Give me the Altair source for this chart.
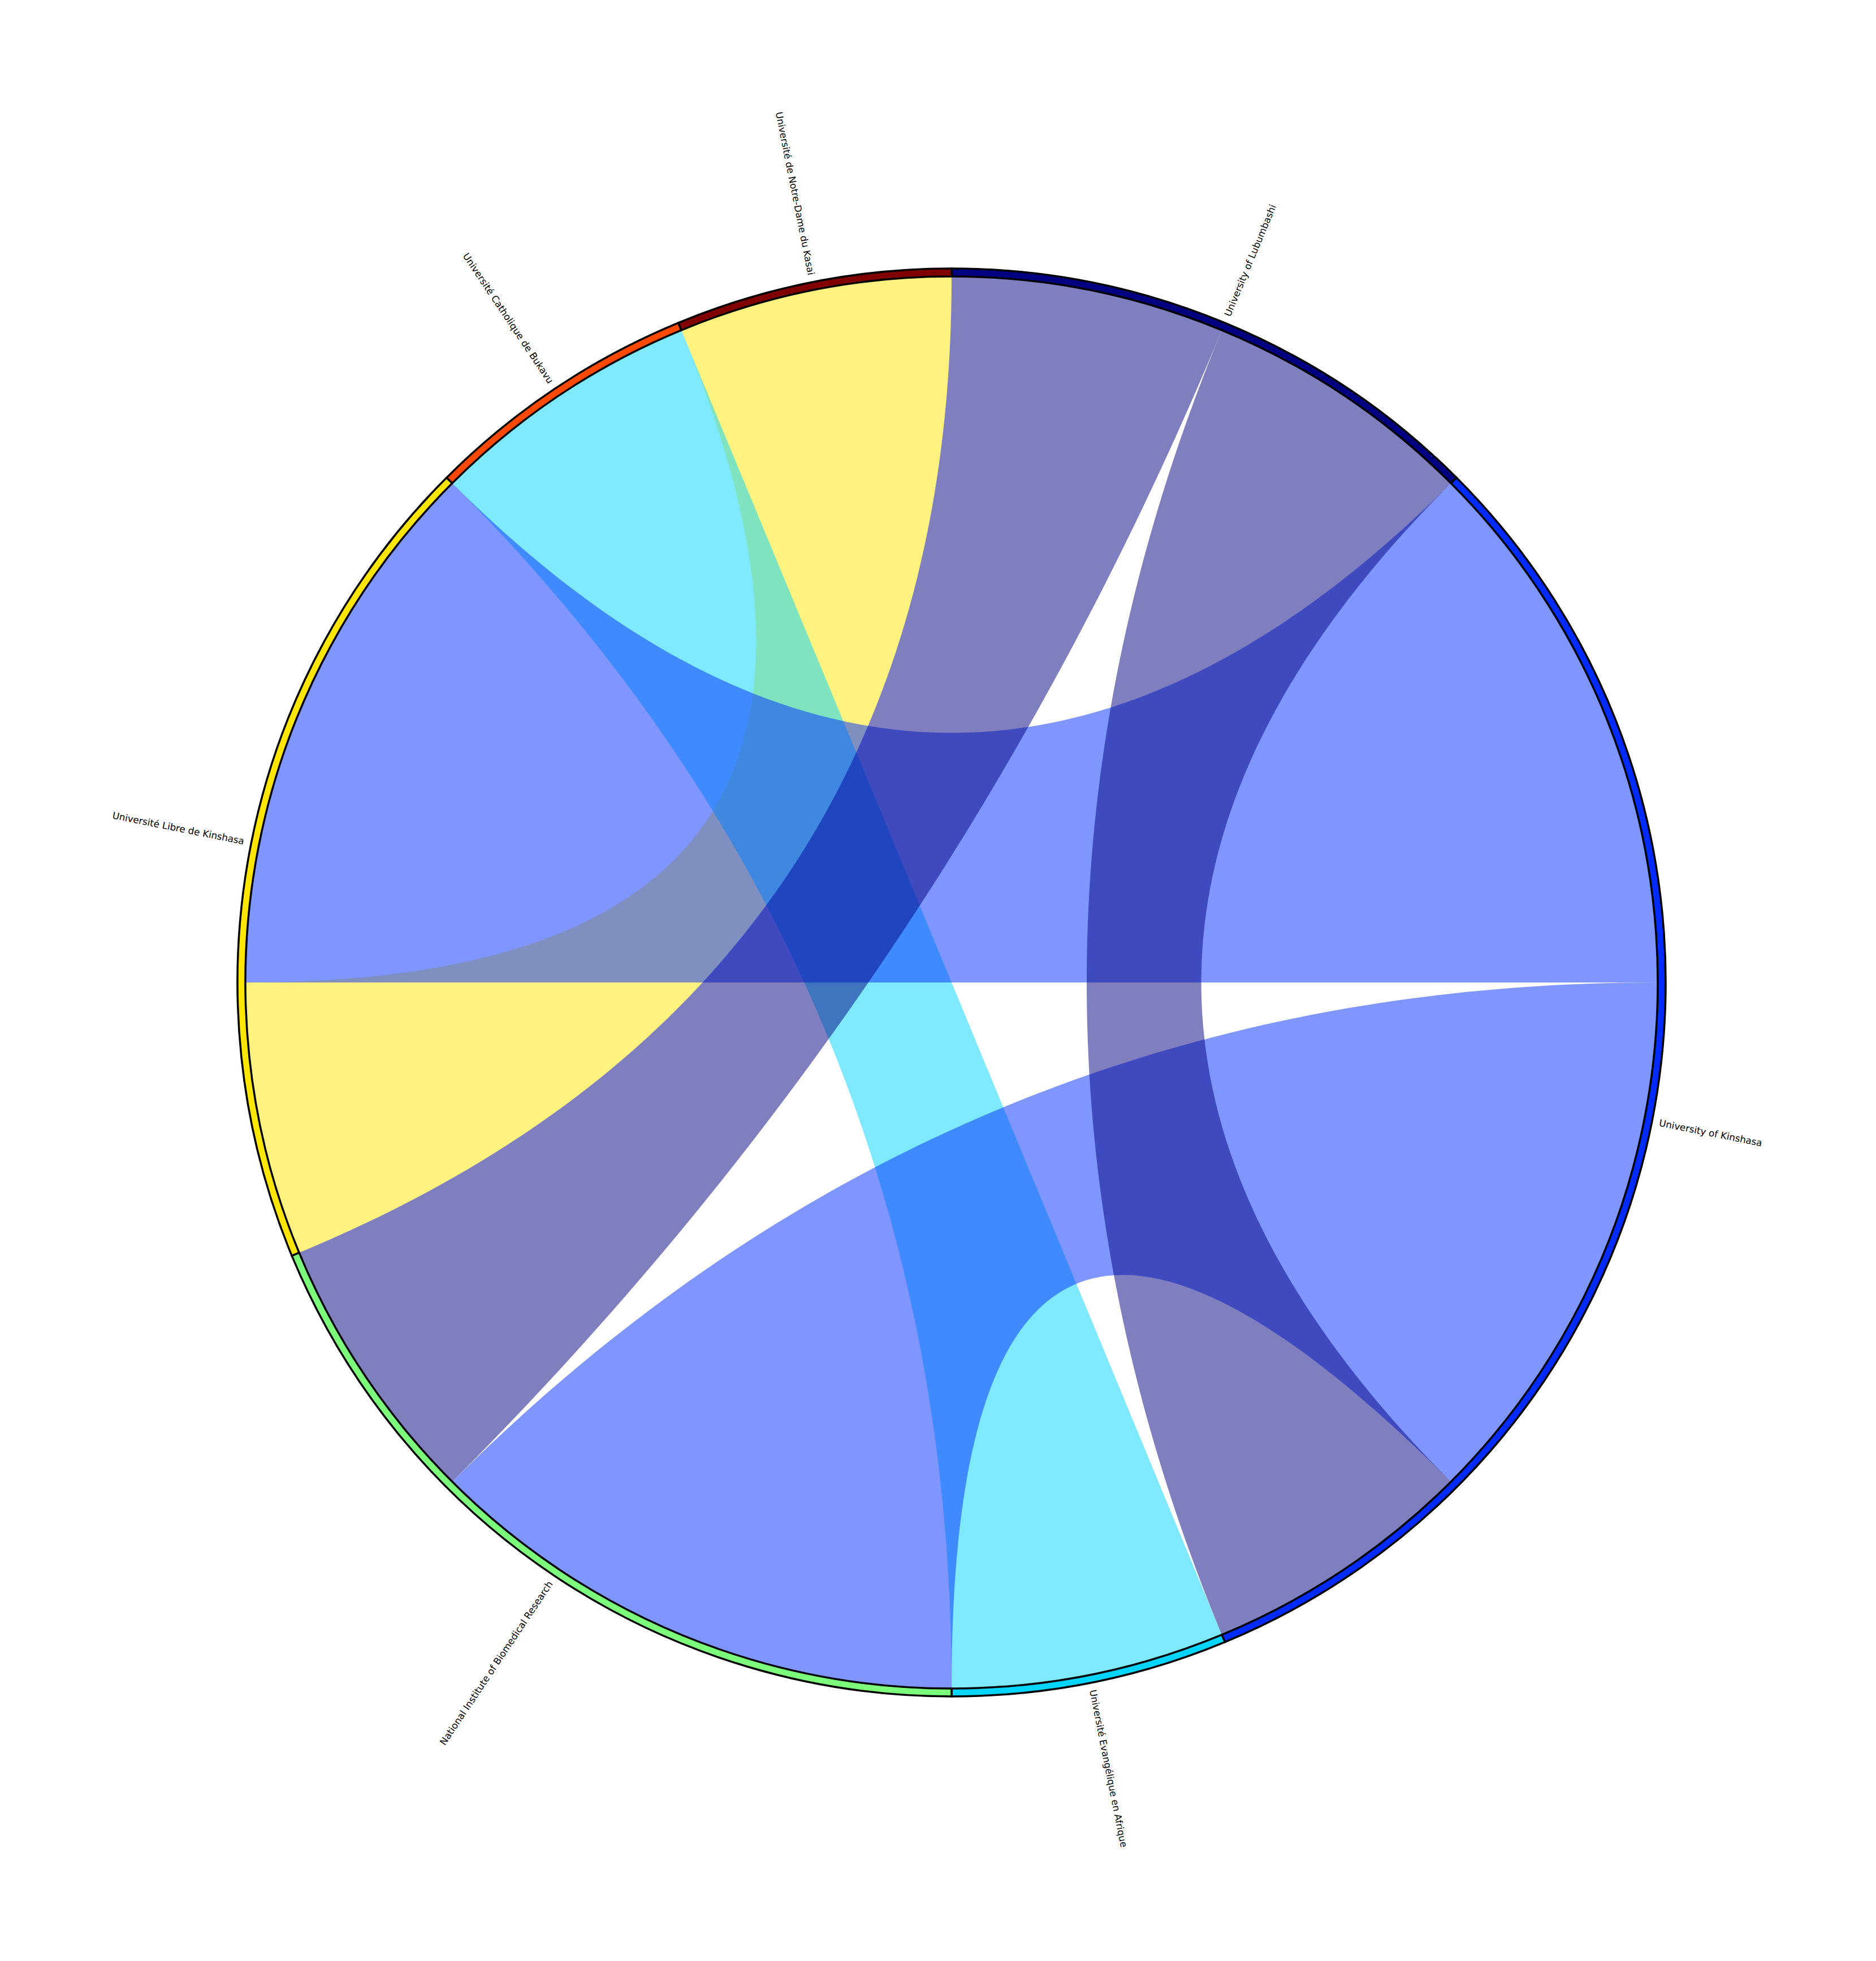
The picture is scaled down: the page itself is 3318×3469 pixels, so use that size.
import math
import numpy as np
import pandas as pd
import altair as alt

# ---------------- data ----------------
nodes = [
    "University of Lubumbashi",
    "University of Kinshasa",
    "Université Evangélique en Afrique",
    "National Institute of Biomedical Research",
    "Université Libre de Kinshasa",
    "Université Catholique de Bukavu",
    "Université de Notre-Dame du Kasai",
]
node_colors = ["#000080", "#002bff", "#00d4ff", "#7cff7a", "#ffe600", "#ff4800", "#800000"]

link_source = [0, 0, 1, 1, 2, 4]
link_target = [1, 3, 4, 3, 5, 6]
link_weight = [1, 1, 2, 2, 1, 1]

# ---------------- layout constants ----------------
R_IN = 1249.0
R_OUT = 1263.0
R_LABEL = 1276.0
HALF = 1300.0
PLOT = 2 * HALF
PAD_L, PAD_T = 383, 438
FONT_SIZE = 16.7

n = len(nodes)
totals = [0] * n
for s, t, w in zip(link_source, link_target, link_weight):
    totals[s] += w
    totals[t] += w
total = sum(totals)

node_start = []
acc = 0
for v in totals:
    node_start.append(acc)
    acc += v

# slots inside each node: partners in descending index order, clockwise
slots = {}
for i in range(n):
    partners = []
    for k, (s, t, w) in enumerate(zip(link_source, link_target, link_weight)):
        if s == i:
            partners.append((t, k, w))
        elif t == i:
            partners.append((s, k, w))
    partners.sort(key=lambda p: -p[0])
    pos = node_start[i]
    for other, k, w in partners:
        slots[(k, i)] = (pos, pos + w)
        pos += w


def phi(u):
    return math.radians(90.0 - u * 360.0 / total)


def pt(u, r=R_IN):
    a = phi(u)
    return (r * math.cos(a), r * math.sin(a))


def arc_pts(u0, u1, m=60):
    return [pt(u) for u in np.linspace(u0, u1, m)]


def bez_pts(p0, p2, m=80):
    ts = np.linspace(0, 1, m)
    return [((1 - t) ** 2 * p0[0] + t ** 2 * p2[0], (1 - t) ** 2 * p0[1] + t ** 2 * p2[1]) for t in ts]


rows = []
for k, (s, t, w) in enumerate(zip(link_source, link_target, link_weight)):
    pa, pb = slots[(k, s)]
    qa, qb = slots[(k, t)]
    pts = (arc_pts(pa, pb) + bez_pts(pt(pb), pt(qa)) + arc_pts(qa, qb) + bez_pts(pt(qb), pt(pa)))
    col = node_colors[min(s, t)]
    for j, (x, y) in enumerate(pts):
        rows.append({"chord": k, "i": j, "x": x, "y": y, "color": col})
chord_df = pd.DataFrame(rows)

xs = alt.Scale(domain=[-HALF, HALF], nice=False, zero=False)
ys = alt.Scale(domain=[-HALF, HALF], nice=False, zero=False)

draw_order = sorted(range(len(link_source)), key=lambda k: -min(link_source[k], link_target[k]))
layers = []
for k in draw_order:
    layers.append(
        alt.Chart(chord_df)
        .transform_filter(alt.datum.chord == k)
        .mark_line(filled=True, fillOpacity=0.5, interpolate="linear")
        .encode(
            x=alt.X("x:Q", scale=xs, axis=None),
            y=alt.Y("y:Q", scale=ys, axis=None),
            order=alt.Order("i:Q"),
            color=alt.Color("color:N", scale=None),
        )
    )

# outer ring
ring_df = pd.DataFrame({
    "node": nodes,
    "u0": node_start,
    "u1": [node_start[i] + totals[i] for i in range(n)],
    "color": node_colors,
})
ring = alt.Chart(ring_df).mark_arc(radius=R_OUT, radius2=R_IN, stroke="black", strokeWidth=3.5).encode(
    theta=alt.Theta("u0:Q", scale=alt.Scale(domain=[0, total], range=[0, 2 * math.pi]), stack=None),
    theta2="u1:Q",
    color=alt.Color("color:N", scale=None),
)

# labels
lab_rows = []
for i in range(n):
    mid = node_start[i] + totals[i] / 2
    a = math.degrees(phi(mid))
    a = (a + 180) % 360 - 180
    x, y = pt(mid, R_LABEL)
    if -90 < a < 90:
        ang = (-a) % 360
        side = "left"
    else:
        ang = (180 - a) % 360
        side = "right"
    lab_rows.append({"label": nodes[i], "x": x, "y": y, "angle": ang, "side": side})
lab_df = pd.DataFrame(lab_rows)

for side in ["left", "right"]:
    layers.append(
        alt.Chart(lab_df)
        .transform_filter(alt.datum.side == side)
        .mark_text(align=side, baseline="middle", fontSize=FONT_SIZE, font="DejaVu Sans", color="black")
        .encode(
            x=alt.X("x:Q", scale=xs, axis=None),
            y=alt.Y("y:Q", scale=ys, axis=None),
            text="label:N",
            angle=alt.Angle("angle:Q", scale=None),
        )
    )

layers.append(ring)

chart = (
    alt.layer(*layers)
    .properties(
        width=PLOT,
        height=PLOT,
        padding={"left": PAD_L, "top": PAD_T, "right": 3318 - PAD_L - int(PLOT), "bottom": 3469 - PAD_T - int(PLOT)},
        autosize=alt.AutoSizeParams(type="none"),
        background="white",
    )
    .configure_view(stroke=None)
)

chart.save("out.html", embed_options={"renderer": "svg", "actions": False})
